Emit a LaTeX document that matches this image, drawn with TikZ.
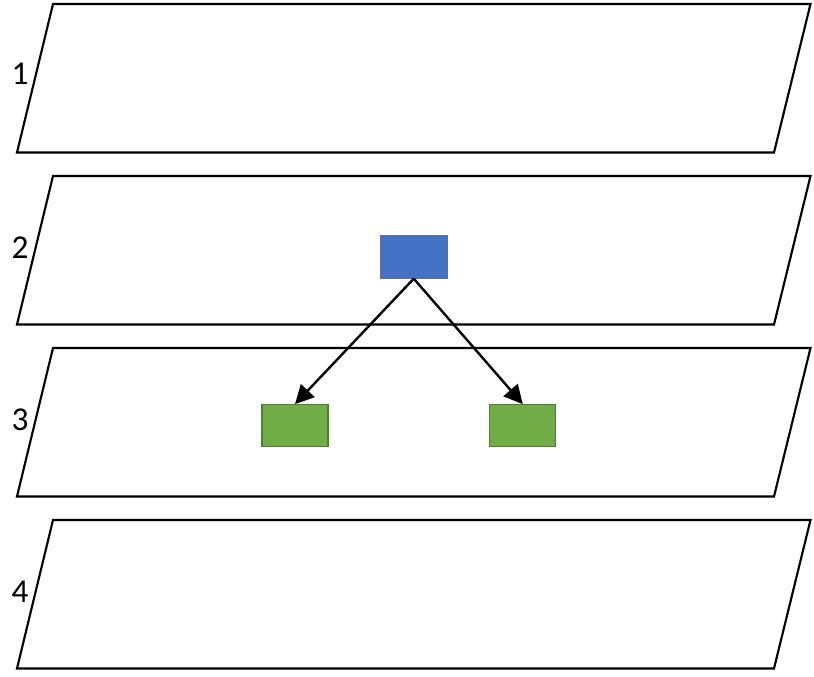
\documentclass[tikz,border=0pt]{standalone}
\usepackage{fontspec}
\setmainfont{Carlito}
\usetikzlibrary{arrows.meta}
\definecolor{bluefill}{HTML}{4472C4}
\definecolor{bluedraw}{HTML}{6A6A8A}
\definecolor{greenfill}{HTML}{70AD47}
\definecolor{greendraw}{HTML}{507E32}
\tikzset{
  layer/.style={draw=black, line width=1.6pt, line join=miter},
  lbl/.style={font=\fontsize{25pt}{30pt}\selectfont, inner sep=0pt},
  bluebox/.style={draw=bluedraw, fill=bluefill, line width=0.6pt, minimum width=50.25pt, minimum height=32.25pt, inner sep=0pt},
  greenbox/.style={draw=greendraw, fill=greenfill, line width=1pt, minimum width=49.5pt, minimum height=31.5pt, inner sep=0pt},
  link/.style={draw=black, line width=1.8pt, -{Triangle[length=14pt,width=14pt]}, shorten >=0pt}
}
\begin{document}
\begin{tikzpicture}[x=0.75pt, y=-0.75pt]
\useasboundingbox (0,0) rectangle (814,676);
\foreach \t in {4,176,348,520} {
  \draw[layer] (53,\t) -- (810.5,\t) -- (774,\t+148.5) -- (17,\t+148.5) -- cycle;
}
\node[lbl] (l1) at (20,74) {1};
\node[lbl] (l2) at (20,248) {2};
\node[lbl] (l3) at (20,420) {3};
\node[lbl] (l4) at (20,592) {4};
\node[bluebox] (b) at (413.75,256.75) {};
\node[greenbox] (g1) at (295,425.75) {};
\node[greenbox] (g2) at (522.75,425.75) {};
\draw[link] (b.south) -- (g1.north);
\draw[link] (b.south) -- (g2.north);
\end{tikzpicture}
\end{document}
